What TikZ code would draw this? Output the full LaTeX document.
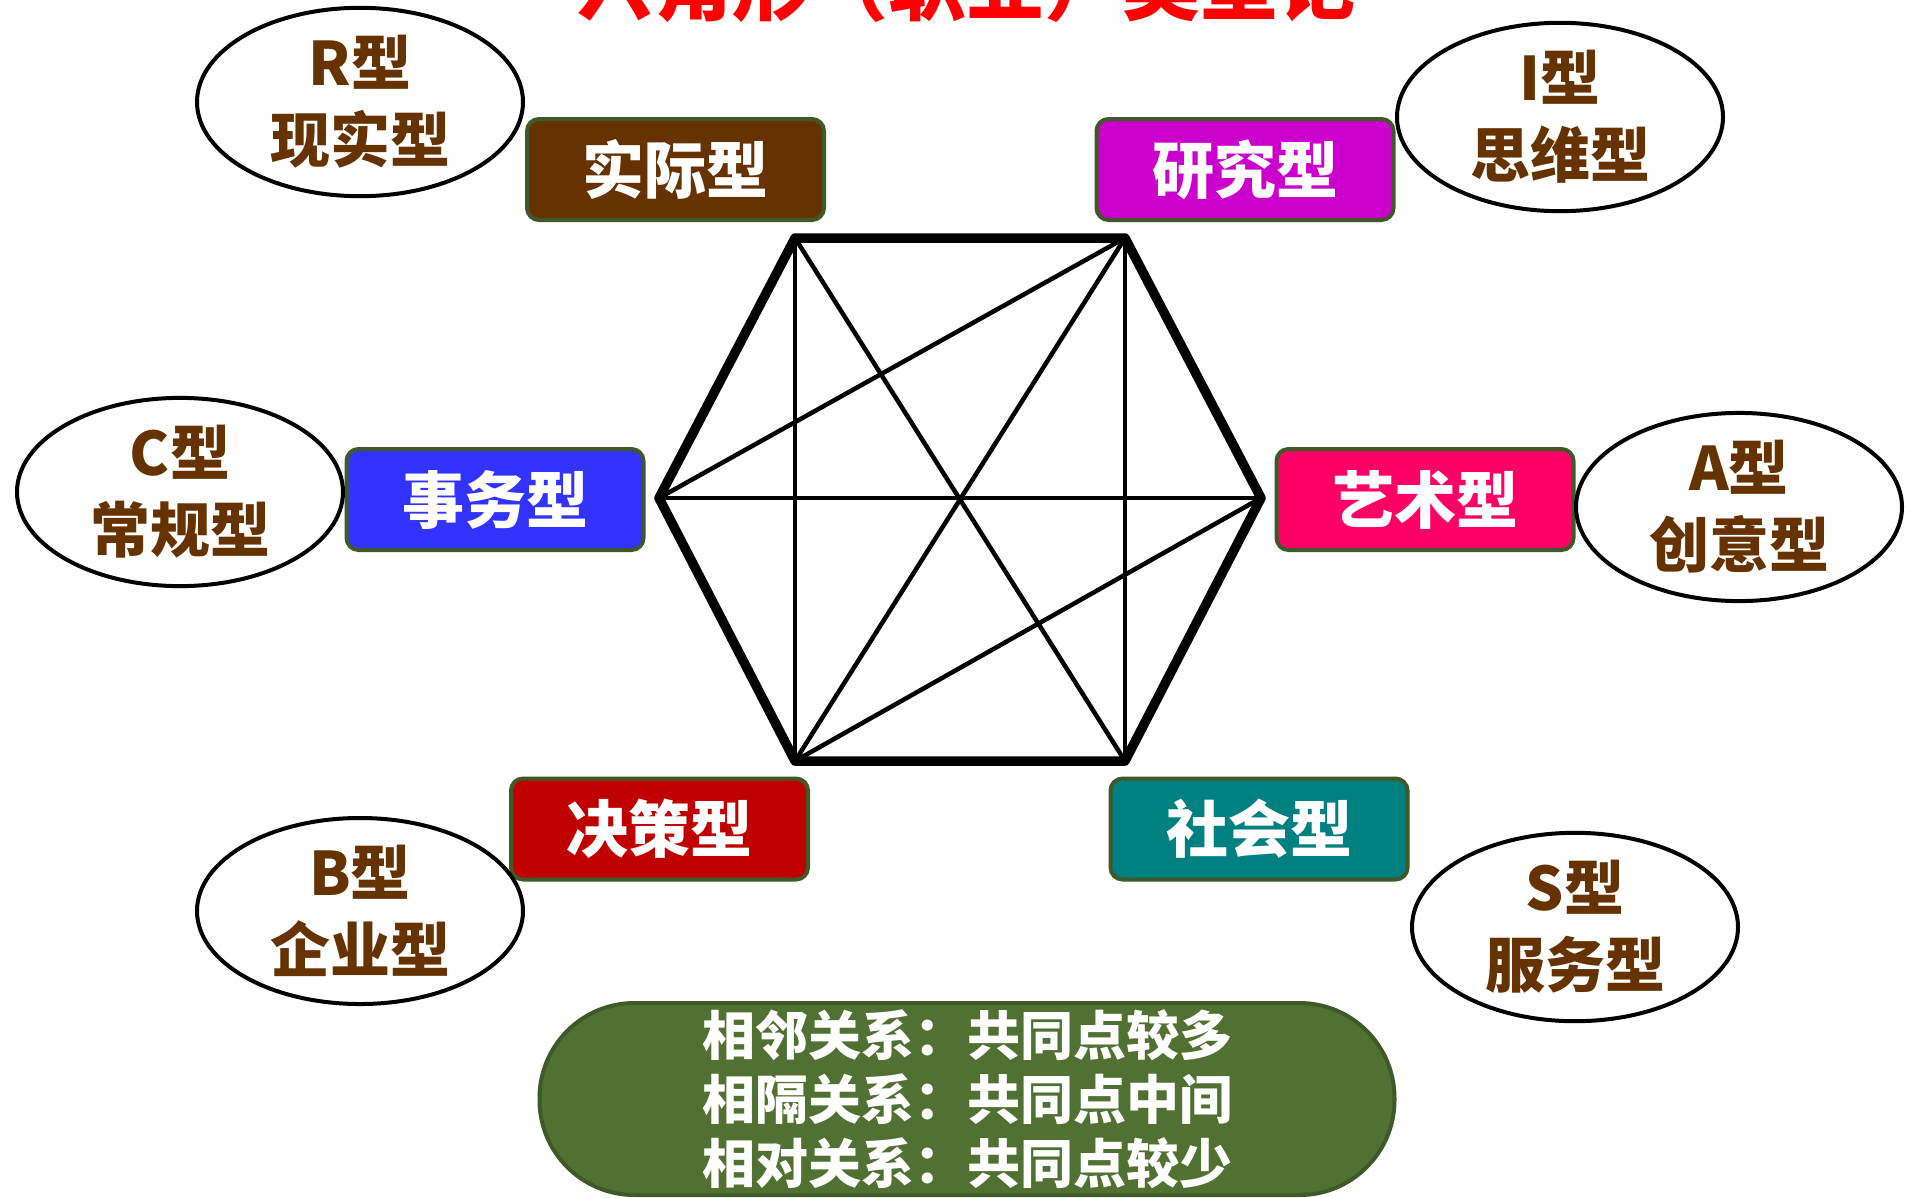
\documentclass[tikz,border=0pt]{standalone}
\usepackage{fontspec}
\newfontfamily\cjk{Noto Sans CJK SC}
\usepackage{tikz}
\usetikzlibrary{shapes.geometric}
\definecolor{shiji}{HTML}{663300}
\definecolor{yanjiu}{HTML}{CC00CC}
\definecolor{shiwu}{HTML}{3333FF}
\definecolor{yishu}{HTML}{FF0066}
\definecolor{juece}{HTML}{C00000}
\definecolor{shehui}{HTML}{008080}
\definecolor{rim}{HTML}{3F5A28}
\definecolor{pill}{HTML}{507131}

\begin{document}
\begin{tikzpicture}[x=1pt,y=-1pt,
    typebox/.style={draw=rim, line width=4pt, rounded corners=12pt, minimum width=297pt,
      minimum height=101pt, inner sep=0pt, text=white, font=\cjk\bfseries\fontsize{62}{66}\selectfont},
    typeoval/.style={ellipse, draw=black, line width=4pt, fill=white, minimum width=326pt,
      minimum height=176pt, inner sep=0pt, text=shiji, align=center,
      font=\cjk\bfseries\fontsize{60}{77}\selectfont},
    edge/.style={line width=9.5pt, line join=round},
    link/.style={line width=4.5pt}]
  \useasboundingbox (0,0) rectangle (1905,1197);

  \node[anchor=base, text=red, font=\cjk\bfseries\fontsize{78}{80}\selectfont] (title) at (966,14) {六角形（职业）类型论};

  % hexagon
  \coordinate (tl) at (795,238);
  \coordinate (tr) at (1125,238);
  \coordinate (rr) at (1261,498);
  \coordinate (br) at (1125,761);
  \coordinate (bl) at (795,761);
  \coordinate (ll) at (659,498);
  \draw[link] (tl) -- (bl);
  \draw[link] (tr) -- (br);
  \draw[link] (ll) -- (rr);
  \draw[link] (tl) -- (br);
  \draw[link] (tr) -- (bl);
  \draw[link] (ll) -- (tr);
  \draw[link] (rr) -- (bl);
  \draw[edge] (tl) -- (tr) -- (rr) -- (br) -- (bl) -- (ll) -- cycle;

  \node[typebox, fill=shiji] (real) at (675.5,169.5) {实际型};
  \node[typebox, fill=yanjiu] (invest) at (1245,169.5) {研究型};
  \node[typebox, fill=shiwu] (conv) at (495,499.5) {事务型};
  \node[typebox, fill=yishu] (art) at (1425,499.5) {艺术型};
  \node[typebox, fill=juece] (enter) at (659.5,829) {决策型};
  \node[typebox, fill=shehui] (social) at (1259,829) {社会型};

  \node[typeoval] (ovr) at (360,102) {R型\\现实型};
  \node[typeoval] (ovi) at (1560,117) {I型\\思维型};
  \node[typeoval] (ovc) at (180,492) {C型\\常规型};
  \node[typeoval] (ova) at (1739,507) {A型\\创意型};
  \node[typeoval] (ovb) at (360,911) {B型\\企业型};
  \node[typeoval] (ovs) at (1575,927) {S型\\服务型};

  \node[draw=rim, line width=4pt, fill=pill, rounded corners=95pt, minimum width=855pt,
    minimum height=192pt, inner sep=0pt, text=white, align=center,
    font=\cjk\bfseries\fontsize{53}{64}\selectfont] (note) at (967,1099)
    {相邻关系：共同点较多\\相隔关系：共同点中间\\相对关系：共同点较少};
\end{tikzpicture}
\end{document}
